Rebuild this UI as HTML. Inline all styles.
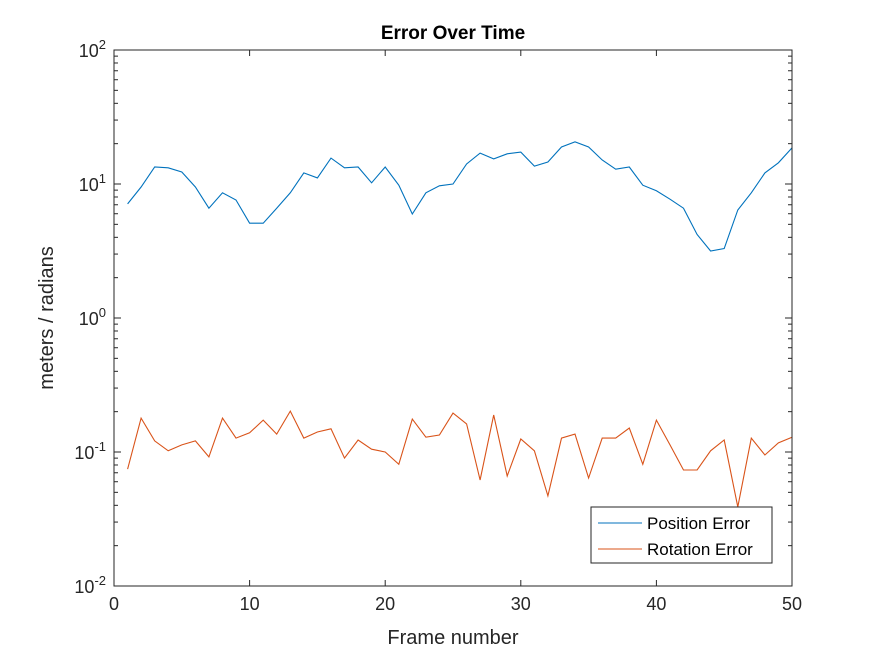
<!DOCTYPE html>
<html><head><meta charset="utf-8"><style>
body{margin:0;background:#fff;}
svg{display:block;font-family:"Liberation Sans",Arial,sans-serif;}
</style></head><body>
<svg id="chart" width="875" height="656" viewBox="0 0 875 656">
<rect width="875" height="656" fill="#fff"/>
<rect x="114" y="50" width="678" height="536" fill="#fff"/>
<g id="grid"></g>
<g id="series"></g>
<rect x="114" y="50" width="678" height="536" fill="none" stroke="#262626" stroke-width="1"/>
<g id="ticks"></g>
<text x="453" y="39" text-anchor="middle" font-size="19" font-weight="bold" fill="#000">Error Over Time</text>
<text x="453" y="644" text-anchor="middle" font-size="20" fill="#262626">Frame number</text>
<text transform="translate(53,318) rotate(-90)" text-anchor="middle" font-size="20" fill="#262626">meters / radians</text>
<g>
<rect x="591" y="507" width="181" height="56" fill="#fff" stroke="#262626" stroke-width="1"/>
<line x1="598" y1="523" x2="642" y2="523" stroke="#0072BD" stroke-width="1"/>
<text x="647" y="529" font-size="17" fill="#000">Position Error</text>
<line x1="598" y1="549" x2="642" y2="549" stroke="#D95319" stroke-width="1"/>
<text x="647" y="555" font-size="17" fill="#000">Rotation Error</text>
</g>
</svg>
<script>
const frames = Array.from({length:50},(_,i)=>i+1);
const positionError = [7.1,9.5,13.4,13.2,12.3,9.5,6.6,8.6,7.6,5.1,5.1,6.6,8.6,12.1,11.1,15.6,13.2,13.4,10.2,13.4,9.8,5.97,8.6,9.7,10.0,14.1,17.0,15.4,16.8,17.3,13.6,14.6,18.9,20.6,18.9,15.1,12.9,13.4,9.8,8.9,7.7,6.6,4.2,3.16,3.3,6.4,8.6,12.1,14.4,18.6];
const rotationError = [0.0746,0.179,0.121,0.102,0.113,0.121,0.092,0.179,0.127,0.139,0.173,0.136,0.202,0.127,0.141,0.149,0.090,0.123,0.105,0.100,0.081,0.176,0.129,0.134,0.195,0.162,0.0618,0.189,0.0662,0.125,0.102,0.047,0.127,0.136,0.064,0.127,0.127,0.151,0.081,0.173,0.113,0.0734,0.0734,0.102,0.123,0.0389,0.127,0.095,0.117,0.129];
const xTicks = [0,10,20,30,40,50];
const yDecades = [-2,-1,0,1,2];

const L=114,R=792,T=50,B=586;
const xs = v => L + (v-0)/(50-0)*(R-L);
const ys = v => B - (Math.log10(v)-(-2))/4*(B-T);
const NS="http://www.w3.org/2000/svg";
function mk(tag,attrs,parent){const e=document.createElementNS(NS,tag);for(const k in attrs)e.setAttribute(k,attrs[k]);parent.appendChild(e);return e;}
const ticks=document.getElementById('ticks');
const series=document.getElementById('series');

xTicks.forEach(t=>{
  const x=xs(t);
  const a=mk('line',{x1:x,y1:B,x2:x,y2:B-6,stroke:'#262626'},ticks);
  
  
  const b=mk('line',{x1:x,y1:T,x2:x,y2:T+6,stroke:'#262626'},ticks);
  
  
  const tx=mk('text',{x:x,y:B+24,'text-anchor':'middle','font-size':'18',fill:'#262626'},ticks);
  tx.textContent=t;
  
  
});
yDecades.forEach((d,i)=>{
  const y=ys(Math.pow(10,d));
  const a=mk('line',{x1:L,y1:y,x2:L+7,y2:y,stroke:'#262626'},ticks);
  
  
  const b=mk('line',{x1:R,y1:y,x2:R-7,y2:y,stroke:'#262626'},ticks);
  
  
  const tx=mk('text',{x:L-8,y:y+7,'text-anchor':'end','font-size':'18',fill:'#262626'},ticks);
  
  
  tx.appendChild(document.createTextNode('10'));
  const sp=mk('tspan',{dy:'-8','font-size':'13'},tx);
  sp.textContent=d;
  if(i<yDecades.length-1){
    for(let m=2;m<=9;m++){
      const yy=ys(m*Math.pow(10,d));
      const c=mk('line',{x1:L,y1:yy,x2:L+4,y2:yy,stroke:'#262626'},ticks);
      
      
      const e=mk('line',{x1:R,y1:yy,x2:R-4,y2:yy,stroke:'#262626'},ticks);
      
      
    }
  }
});
function line(vals,color,name){
  const pts=vals.map((v,i)=>xs(frames[i]).toFixed(1)+','+ys(v).toFixed(1)).join(' ');
  const p=mk('polyline',{points:pts,fill:'none',stroke:color,'stroke-width':'1.1'},series);
  
  
}
line(positionError,'#0072BD','position-error-line');
line(rotationError,'#D95319','rotation-error-line');
</script>
</body></html>
